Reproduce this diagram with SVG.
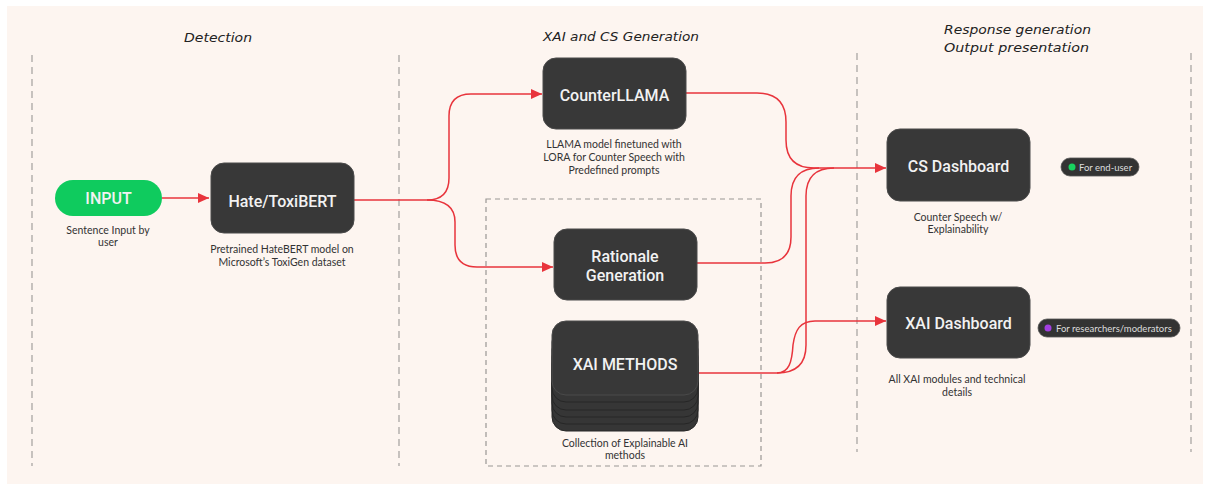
<svg xmlns="http://www.w3.org/2000/svg" width="1210" height="486" viewBox="0 0 1210 486">
  <defs>
    <style>
      .lane { stroke: #a3a09d; stroke-width: 1.2; stroke-dasharray: 7 5; fill: none; }
      .title { font-family: "DejaVu Sans", sans-serif; font-style: italic; font-size: 13px; fill: #222; }
      .box { fill: #383838; stroke: #4a4a4a; stroke-width: 1; }
      .layer { fill: #363636; stroke: #262626; stroke-width: 1; }
      .name { font-family: Roboto, "Liberation Sans", sans-serif; font-weight: 500; font-size: 16px; fill: #f2f2f2; text-anchor: middle; }
      .note { font-family: Lato, "Liberation Sans", sans-serif; font-size: 10.5px; fill: #333; text-anchor: middle; }
      .tag { fill: #333333; stroke: #555; stroke-width: 0.8; }
      .tagtext { font-family: Lato, "Liberation Sans", sans-serif; font-size: 9.5px; fill: #dddddd; }
      .link { fill: none; stroke: #e8343c; stroke-width: 1.5; }
    </style>
    <marker id="arrow" markerUnits="userSpaceOnUse" markerWidth="12" markerHeight="10" refX="11" refY="5" orient="auto">
      <path d="M0,0 L11,5 L0,10 Z" fill="#e8343c"/>
    </marker>
  </defs>

  <!-- canvas -->
  <rect x="0" y="0" width="1210" height="486" fill="#ffffff"/>
  <rect x="7" y="6" width="1196" height="478" fill="#fdf5f0"/>

  <!-- swimlane dividers -->
  <g id="lanes">
    <line class="lane" x1="32" y1="55" x2="32" y2="466"/>
    <line class="lane" x1="399" y1="55" x2="399" y2="466"/>
    <line class="lane" x1="857" y1="53" x2="857" y2="452"/>
    <line class="lane" x1="1191" y1="53" x2="1191" y2="452"/>
  </g>

  <!-- stage headings -->
  <g id="headings">
    <text class="title" x="184" y="42" textLength="68" lengthAdjust="spacingAndGlyphs">Detection</text>
    <text class="title" x="543" y="41" textLength="156" lengthAdjust="spacingAndGlyphs">XAI and CS Generation</text>
    <text class="title" x="944" y="34" textLength="147" lengthAdjust="spacingAndGlyphs">Response generation</text>
    <text class="title" x="944" y="52" textLength="145" lengthAdjust="spacingAndGlyphs">Output presentation</text>
  </g>

  <!-- XAI grouping frame -->
  <rect id="xai-group" x="486" y="199" width="275" height="267" fill="none" stroke="#9a9794" stroke-width="1.2" stroke-dasharray="5 4"/>

  <!-- connectors -->
  <g id="connectors">
    <path class="link" d="M162,198 H209" marker-end="url(#arrow)"/>
    <path class="link" d="M354,200 H427 Q449,200 449,178 V116 Q449,94 471,94 H542" marker-end="url(#arrow)"/>
    <path class="link" d="M427,200 Q455,200 455,222 V245 Q455,267 477,267 H553" marker-end="url(#arrow)"/>
    <path class="link" d="M686,93 H757 Q786,93 786,122 V140 Q786,168 814,168 H886" marker-end="url(#arrow)"/>
    <path class="link" d="M697,263 H765 Q791,263 791,237 V196 Q791,168 819,168"/>
    <path class="link" d="M698,373 H777 Q806,373 806,345 V196 Q806,168 834,168"/>
    <path class="link" d="M777,373 C789,373 792,362 793,345 C795,330 800,321 815,321 H886" marker-end="url(#arrow)"/>
  </g>

  <!-- input -->
  <g id="input">
    <rect x="55" y="180" width="107" height="36" rx="18" fill="#0fcb5e"/>
    <text class="name" x="108.5" y="204" font-size="17">INPUT</text>
    <text class="note" x="108" y="234">Sentence Input by</text>
    <text class="note" x="108" y="246">user</text>
  </g>

  <!-- detector -->
  <g id="detector">
    <rect class="box" x="211" y="163" width="143" height="70" rx="13"/>
    <text class="name" x="282.5" y="207">Hate/ToxiBERT</text>
    <text class="note" x="282" y="253">Pretrained HateBERT model on</text>
    <text class="note" x="282" y="266">Microsoft’s ToxiGen dataset</text>
  </g>

  <!-- counter speech generator -->
  <g id="counterllama">
    <rect class="box" x="543" y="58" width="143" height="71" rx="13"/>
    <text class="name" x="614.5" y="101">CounterLLAMA</text>
    <text class="note" x="614" y="148">LLAMA model finetuned with</text>
    <text class="note" x="614" y="161">LORA for Counter Speech with</text>
    <text class="note" x="614" y="174">Predefined prompts</text>
  </g>

  <!-- rationale -->
  <g id="rationale">
    <rect class="box" x="554" y="229" width="143" height="71" rx="13"/>
    <text class="name" x="625" y="262">Rationale</text>
    <text class="name" x="625" y="281">Generation</text>
  </g>

  <!-- XAI methods stack -->
  <g id="xai-methods">
    <rect class="layer" x="552" y="357" width="146" height="74" rx="14"/>
    <rect class="layer" x="552" y="350" width="146" height="74" rx="14"/>
    <rect class="layer" x="552" y="343" width="146" height="74" rx="14"/>
    <rect class="layer" x="552" y="336" width="146" height="74" rx="14"/>
    <rect class="layer" x="552" y="328" width="146" height="74" rx="14"/>
    <rect class="box" x="552" y="321" width="146" height="74" rx="14"/>
    <text class="name" x="625" y="370" font-size="16.5">XAI METHODS</text>
    <text class="note" x="625" y="447">Collection of Explainable AI</text>
    <text class="note" x="625" y="459">methods</text>
  </g>

  <!-- end-user dashboard -->
  <g id="cs-dashboard">
    <rect class="box" x="887" y="129" width="143" height="72" rx="13"/>
    <text class="name" x="958.5" y="172">CS Dashboard</text>
    <text class="note" x="958" y="221">Counter Speech w/</text>
    <text class="note" x="958" y="233">Explainability</text>
  </g>
  <g id="tag-end-user">
    <rect class="tag" x="1061" y="158" width="78" height="18" rx="9"/>
    <circle cx="1072" cy="167" r="3.5" fill="#18d35f"/>
    <text class="tagtext" x="1079" y="170.5">For end-user</text>
  </g>

  <!-- researcher dashboard -->
  <g id="xai-dashboard">
    <rect class="box" x="887" y="287" width="143" height="71" rx="13"/>
    <text class="name" x="958.5" y="329">XAI Dashboard</text>
    <text class="note" x="957" y="383">All XAI modules and technical</text>
    <text class="note" x="957" y="396">details</text>
  </g>
  <g id="tag-researchers">
    <rect class="tag" x="1038" y="319" width="142" height="18" rx="9"/>
    <circle cx="1048" cy="328" r="3.5" fill="#a23fe0"/>
    <text class="tagtext" x="1056" y="331.5">For researchers/moderators</text>
  </g>
</svg>
